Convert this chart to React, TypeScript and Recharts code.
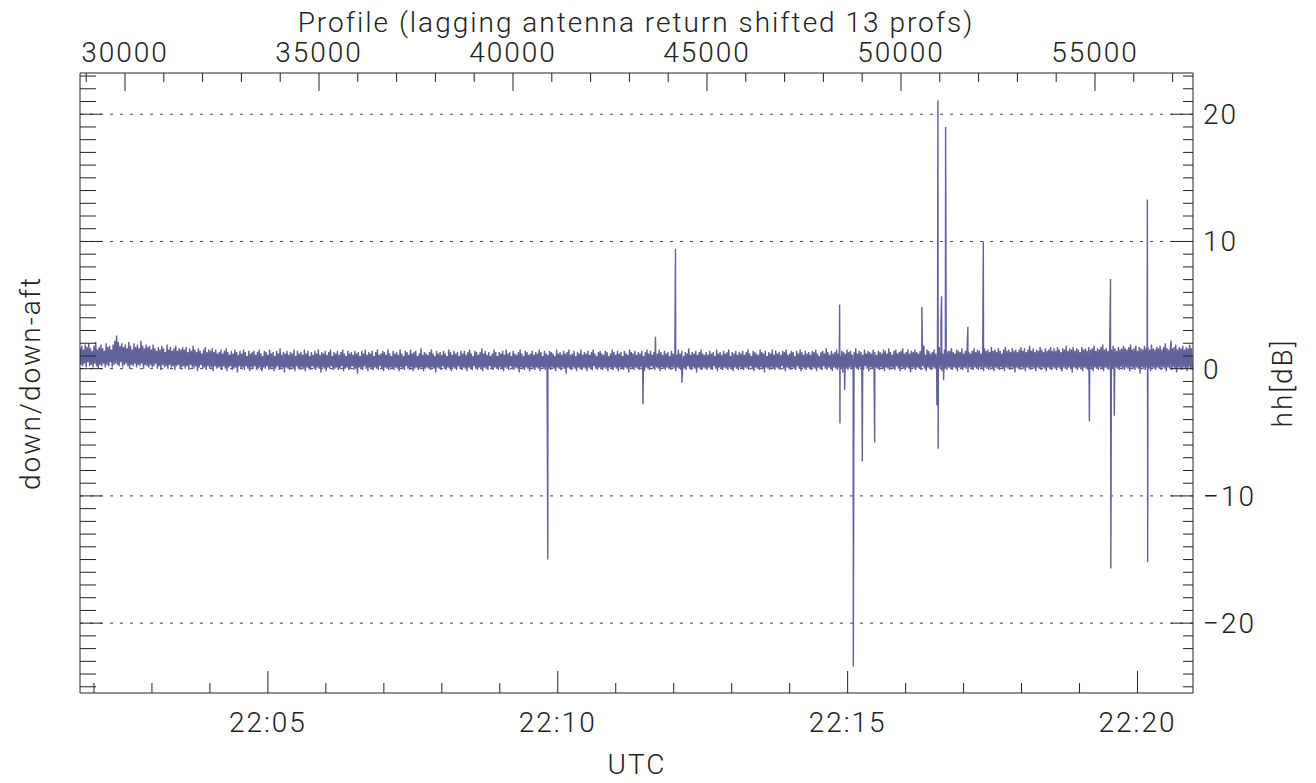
import React from "react";
import { LineChart, Line, XAxis, YAxis, ReferenceLine } from "recharts";

// minutes after 22:00 UTC, regular sampling of the noise floor
const NOISE_START = 1.76;
const NOISE_STEP = 0.015;

// hh[dB] down/down-aft ratio (one row = 0.6 min)
const noiseValues = [
  1.6,0.3,1.8,0.2,1.5,0.4,1.9,0.1,1.7,0.5, 2.0,0.2,1.6,0.3,1.4,0.1,1.8,0.4,2.1,0.2, 1.5,0.0,1.7,0.3,1.9,0.2,1.6,0.4,1.4,0.1, 2.0,0.3,1.7,0.2,1.8,0.5,1.5,0.1,1.9,0.3,
  2.2,0.4,2.6,0.3,2.1,0.2,1.8,0.5,2.0,0.1, 1.7,0.3,1.9,0.4,1.6,0.2,2.1,0.0,1.8,0.3, 1.5,0.2,2.0,0.4,1.7,0.1,1.9,0.3,1.6,0.2, 2.2,0.4,1.8,0.0,1.6,0.3,1.9,0.2,1.7,0.1,
  1.8,0.3,1.5,0.1,1.9,0.2,1.6,0.4,1.4,0.0, 1.7,0.2,1.5,-0.1,1.8,0.3,1.6,0.1,1.3,0.2, 1.9,0.0,1.5,0.3,1.7,0.1,1.4,0.2,1.6,-0.1, 1.8,0.2,1.4,0.3,1.6,0.0,1.5,0.1,1.7,0.2,
  1.5,0.0,1.7,0.2,1.3,-0.1,1.6,0.3,1.4,0.1, 1.8,0.0,1.5,0.2,1.3,-0.2,1.6,0.1,1.4,0.3, 1.2,0.0,1.5,0.1,1.7,-0.1,1.3,0.2,1.5,0.0, 1.4,0.1,1.6,-0.2,1.3,0.2,1.5,0.0,1.2,0.1,
  1.3,0.1,1.5,-0.1,1.2,0.2,1.4,0.0,1.6,-0.2, 1.3,0.1,1.1,0.2,1.4,-0.1,1.2,0.0,1.5,0.1, 1.3,-0.3,1.1,0.2,1.4,0.0,1.2,0.1,1.5,-0.1, 1.3,0.2,1.0,0.0,1.4,-0.2,1.2,0.1,1.3,0.0,
  1.4,0.2,1.1,-0.1,1.3,0.0,1.5,0.1,1.2,-0.2, 1.0,0.1,1.4,0.0,1.3,0.2,1.1,-0.1,1.5,0.0, 1.2,0.1,1.3,-0.2,1.0,0.0,1.4,0.2,1.2,-0.1, 1.6,0.0,1.1,0.1,1.3,-0.3,1.2,0.1,1.4,0.0,
  1.1,-0.1,1.3,0.1,1.2,0.0,1.5,-0.2,1.0,0.2, 1.4,0.0,1.2,-0.1,1.3,0.1,1.1,0.0,1.5,-0.2, 1.2,0.1,1.4,0.0,1.0,-0.1,1.3,0.2,1.1,0.0, 1.4,-0.1,1.2,0.1,1.5,0.0,1.1,-0.3,1.3,0.1,
  1.2,0.0,1.4,-0.2,1.1,0.1,1.3,0.0,1.5,0.2, 1.0,-0.1,1.3,0.0,1.2,0.1,1.4,-0.1,1.1,0.0, 1.3,0.2,1.5,-0.2,1.2,0.0,1.0,0.1,1.4,-0.1, 1.2,0.0,1.3,0.2,1.1,-0.1,1.4,0.0,1.2,-0.4,
  1.3,0.1,1.0,0.0,1.4,-0.1,1.2,0.2,1.5,0.0, 1.1,-0.2,1.3,0.1,1.2,0.0,1.4,-0.1,1.0,0.1, 1.3,0.0,1.5,-0.1,1.1,0.2,1.2,0.0,1.4,-0.2, 1.3,0.1,1.1,0.0,1.5,-0.1,1.2,0.1,1.0,0.0,
  1.4,-0.1,1.2,0.1,1.3,0.0,1.1,-0.2,1.5,0.1, 1.2,0.0,1.0,-0.1,1.4,0.2,1.3,0.0,1.1,-0.1, 1.5,0.1,1.2,-0.2,1.3,0.0,1.4,0.1,1.0,-0.1, 1.2,0.0,1.6,0.1,1.1,-0.2,1.3,0.0,1.2,0.1,
  1.1,0.0,1.3,-0.1,1.5,0.1,1.2,0.0,1.0,-0.3, 1.4,0.1,1.2,0.0,1.3,-0.1,1.1,0.2,1.4,0.0, 1.2,-0.1,1.0,0.1,1.5,0.0,1.3,-0.2,1.1,0.1, 1.4,0.0,1.2,-0.1,1.3,0.2,1.0,0.0,1.4,-0.1,
  1.2,0.1,1.4,0.0,1.1,-0.2,1.3,0.1,1.5,0.0, 1.2,-0.1,1.0,0.2,1.4,0.0,1.3,-0.1,1.1,0.1, 1.3,0.0,1.6,-0.2,1.2,0.1,1.4,0.0,1.1,-0.1, 1.3,0.2,1.0,0.0,1.2,-0.1,1.5,0.1,1.3,0.0,
  1.0,-0.1,1.3,0.1,1.2,0.0,1.4,-0.2,1.1,0.1, 1.5,0.0,1.2,-0.1,1.3,0.2,1.0,0.0,1.4,-0.1, 1.2,0.1,1.1,0.0,1.3,-0.3,1.5,0.1,1.2,0.0, 1.0,-0.1,1.4,0.1,1.3,0.0,1.1,-0.2,1.2,0.1,
  1.4,0.0,1.1,-0.1,1.3,0.1,1.2,0.0,1.5,-0.2, 1.3,0.1,1.0,0.0,1.4,-0.1,1.2,0.2,1.1,0.0, 1.4,-0.1,1.3,0.1,1.2,0.0,1.0,-0.2,1.5,0.1, 1.2,0.0,1.3,-0.1,1.1,0.1,1.4,0.0,1.2,-0.4,
  1.3,0.1,1.5,0.0,1.1,-0.1,1.2,0.1,1.4,0.0, 1.0,-0.2,1.3,0.1,1.2,0.0,1.5,-0.1,1.1,0.1, 1.3,0.0,1.2,-0.2,1.4,0.1,1.1,0.0,1.3,-0.1, 1.5,0.2,1.2,0.0,1.0,-0.1,1.3,0.1,1.4,0.0,
  1.2,-0.1,1.1,0.1,1.4,0.0,1.3,-0.2,1.0,0.1, 1.2,0.0,1.5,-0.1,1.3,0.1,1.1,0.0,1.4,-0.2, 1.2,0.1,1.3,0.0,1.0,-0.1,1.4,0.1,1.2,0.0, 1.1,-0.3,1.5,0.1,1.3,0.0,1.2,-0.1,1.4,0.1,
  1.1,0.0,1.3,-0.1,1.2,0.1,1.4,0.0,1.0,-0.2, 1.3,0.1,1.5,0.0,1.2,-0.1,1.4,0.2,1.1,0.0, 1.3,-0.1,1.0,0.1,1.2,0.0,1.5,-0.2,1.3,0.1, 1.1,0.0,1.4,-0.1,1.2,0.1,1.3,0.0,1.0,-0.1,
  1.4,0.1,1.2,0.0,1.3,-0.2,1.1,0.1,1.5,0.0, 1.2,-0.1,1.4,0.1,1.0,0.0,1.3,-0.1,1.2,0.2, 1.6,0.0,1.1,-0.1,1.3,0.1,1.2,0.0,1.4,-0.3, 1.1,0.1,1.3,0.0,1.5,-0.1,1.2,0.1,1.1,0.0,
  1.3,-0.1,1.1,0.1,1.4,0.0,1.2,-0.1,1.3,0.2, 1.0,0.0,1.5,-0.2,1.2,0.1,1.3,0.0,1.1,-0.1, 1.4,0.1,1.2,0.0,1.3,-0.1,1.5,0.1,1.0,0.0, 1.3,-0.2,1.2,0.1,1.4,0.0,1.1,-0.1,1.3,0.1,
  1.2,0.0,1.4,-0.1,1.1,0.1,1.3,0.0,1.5,-0.1, 1.2,0.2,1.0,0.0,1.4,-0.2,1.3,0.1,1.2,0.0, 1.1,-0.1,1.5,0.1,1.3,0.0,1.2,-0.3,1.4,0.1, 1.0,0.0,1.3,-0.1,1.2,0.1,1.5,0.0,1.1,-0.1,
  1.4,0.1,1.2,0.0,1.3,-0.1,1.1,0.2,1.4,0.0, 1.3,-0.2,1.5,0.1,1.1,0.0,1.2,-0.1,1.4,0.1, 1.3,0.0,1.0,-0.1,1.4,0.2,1.2,0.0,1.5,-0.2, 1.3,0.1,1.1,0.0,1.4,-0.1,1.2,0.1,1.3,0.0,
  1.1,-0.1,1.4,0.1,1.3,0.0,1.5,-0.2,1.2,0.1, 1.0,0.0,1.3,-0.1,1.4,0.2,1.2,0.0,1.6,-0.1, 1.3,0.1,1.1,0.0,1.4,-0.2,1.2,0.1,1.3,0.0, 1.5,-0.1,1.2,0.1,1.0,0.0,1.4,-0.3,1.3,0.1,
  1.2,0.0,1.5,-0.1,1.3,0.1,1.4,0.0,1.1,-0.2, 1.3,0.1,1.6,0.0,1.2,-0.1,1.4,0.1,1.3,0.0, 1.1,-0.1,1.5,0.2,1.2,0.0,1.4,-0.2,1.3,0.1, 1.2,0.0,1.5,-0.1,1.3,0.1,1.1,0.0,1.4,-0.1,
  1.3,0.1,1.2,0.0,1.5,-0.2,1.4,0.1,1.2,0.0, 1.6,-0.1,1.3,0.1,1.1,0.0,1.4,-0.1,1.5,0.2, 1.2,0.0,1.3,-0.2,1.4,0.1,1.6,0.0,1.2,-0.1, 1.3,0.1,1.5,0.0,1.2,-0.3,1.4,0.1,1.3,0.0,
  1.5,-0.1,1.3,0.1,1.2,0.0,1.4,-0.1,1.6,0.2, 1.3,0.0,1.1,-0.2,1.5,0.1,1.4,0.0,1.2,-0.1, 1.3,0.1,1.5,0.0,1.2,-0.1,1.4,0.1,1.7,0.0, 1.3,-0.2,1.2,0.1,1.5,0.0,1.3,-0.1,1.4,0.1,
  1.4,0.0,1.6,-0.1,1.3,0.1,1.2,0.0,1.5,-0.2, 1.4,0.1,1.3,0.0,1.6,-0.1,1.2,0.1,1.4,0.0, 1.5,-0.3,1.3,0.1,1.2,0.0,1.4,-0.1,1.6,0.1, 1.3,0.0,1.5,-0.1,1.4,0.1,1.2,0.0,1.5,-0.2,
  1.6,0.1,1.4,0.0,1.5,-0.1,1.3,0.1,1.7,0.0, 1.4,-0.2,1.5,0.1,1.3,0.0,1.6,-0.1,1.4,0.1, 1.2,0.0,1.5,-0.2,1.7,0.1,1.4,0.0,1.5,-0.1, 1.3,0.1,1.6,0.0,1.4,-0.3,1.5,0.1,1.3,0.0,
  1.5,-0.1,1.7,0.1,1.4,0.0,1.6,-0.2,1.3,0.1, 1.5,0.0,1.8,-0.1,1.4,0.1,1.6,0.0,1.3,-0.2, 1.5,0.1,1.4,0.0,1.7,-0.1,1.5,0.1,1.3,0.0, 1.6,-0.2,1.4,0.1,1.5,0.0,1.7,-0.1,1.4,0.1,
  1.6,0.0,1.4,-0.1,1.7,0.1,1.5,0.0,1.3,-0.2, 1.6,0.1,1.5,0.0,1.8,-0.1,1.4,0.1,1.6,0.0, 1.5,-0.3,1.7,0.1,1.4,0.0,1.6,-0.1,1.5,0.1, 1.3,0.0,1.7,-0.2,1.5,0.1,1.6,0.0,1.4,-0.1,
  1.7,0.1,1.5,0.0,1.6,-0.2,1.8,0.1,1.4,0.0, 1.6,-0.1,1.5,0.1,1.7,0.0,1.9,-0.2,1.5,0.1, 1.6,0.0,1.4,-0.1,1.7,0.1,1.5,0.0,1.8,-0.3, 1.6,0.1,1.4,0.0,1.7,-0.1,1.5,0.1,1.6,0.0,
  1.8,-0.1,1.6,0.1,1.5,0.0,1.7,-0.2,1.9,0.1, 1.5,0.0,1.6,-0.1,1.8,0.1,1.4,0.0,1.7,-0.4, 1.6,0.1,1.5,0.0,1.8,-0.1,1.6,0.1,1.7,0.0, 1.5,-0.2,1.9,0.1,1.6,0.0,1.5,-0.1,1.7,0.1,
  1.6,0.0,1.8,-0.1,1.5,0.1,1.7,0.0,2.0,-0.2, 1.6,0.1,1.5,0.0,1.8,-0.1,1.6,0.1,1.7,0.0, 1.9,-0.3,1.5,0.1,1.7,0.0,1.6,-0.1,1.8,0.1, 1.5,0.0,1.7,-0.2,1.6,0.1,1.9,0.0,1.6,-0.1,
];

// single-sample outliers
const spikeTimes = [
  9.828, 11.47, 11.685, 12.03, 12.14, 14.862, 14.867, 14.948, 15.098, 15.253,
  15.466, 16.28, 16.315, 16.54, 16.557, 16.562, 16.61, 16.62, 16.655, 16.69,
  17.074, 17.34, 19.17, 19.534, 19.54, 19.6, 20.17, 20.175, 20.58,
];
const spikeValues = [
  -15.0, -2.8, 2.5, 9.4, -1.1, 5.05, -4.3, -1.7, -23.4, -7.3,
  -5.8, 4.85, 1.8, -2.9, 21.1, -6.3, 3.8, 5.7, -0.9, 19.0,
  3.3, 10.0, -4.15, 7.05, -15.7, -3.7, 13.3, -15.2, 2.2,
];

const minuteTicks = [2, 3, 4, 5, 6, 7, 8, 9, 10, 11, 12, 13, 14, 15, 16, 17, 18, 19, 20];
const profileTicks = [
  29000, 30000, 31000, 32000, 33000, 34000, 35000, 36000, 37000, 38000,
  39000, 40000, 41000, 42000, 43000, 44000, 45000, 46000, 47000, 48000,
  49000, 50000, 51000, 52000, 53000, 54000, 55000, 56000, 57000,
];
const dbTicks = [
  -25, -24, -23, -22, -21, -20, -19, -18, -17, -16, -15, -14, -13, -12, -11, -10,
  -9, -8, -7, -6, -5, -4, -3, -2, -1, 0, 1, 2, 3, 4, 5, 6, 7, 8, 9, 10,
  11, 12, 13, 14, 15, 16, 17, 18, 19, 20, 21, 22, 23,
];
const gridLevels = [-20, -10, 0, 10, 20];

const TIME_DOMAIN: [number, number] = [1.759, 20.957];
const PROFILE_DOMAIN: [number, number] = [28840, 57526];
const DB_DOMAIN: [number, number] = [-25.49, 23.24];

const INK = "#222";
const SERIES = "#62629a";
const font = {
  fontFamily: "Roboto, 'DejaVu Sans', sans-serif",
  fontWeight: 300,
  fontSize: 28,
  fill: INK,
  letterSpacing: 2,
};

const rows = [
  ...noiseValues.map((v, i) => ({ t: NOISE_START + i * NOISE_STEP, v })),
  ...spikeTimes.map((t, i) => ({ t, v: spikeValues[i] })),
].sort((a, b) => a.t - b.t);

const fmtDb = (v: number) => (v < 0 ? `\u2212${Math.abs(v)}` : `${v}`);

function BottomTick({ x, y, payload }: any) {
  const major = payload.value % 5 === 0;
  return (
    <g>
      <line x1={x} y1={y} x2={x} y2={y - (major ? 22 : 10)} stroke={INK} />
      {major && (
        <text x={x} y={y + 39} textAnchor="middle" {...font}>
          {`22:${String(payload.value).padStart(2, "0")}`}
        </text>
      )}
    </g>
  );
}

function TopTick({ x, y, payload }: any) {
  const major = payload.value % 5000 === 0;
  return (
    <g>
      <line x1={x} y1={y} x2={x} y2={y + (major ? 18 : 9)} stroke={INK} />
      {major && (
        <text x={x} y={y - 11} textAnchor="middle" {...font}>
          {payload.value}
        </text>
      )}
    </g>
  );
}

function LeftTick({ x, y, payload }: any) {
  const major = payload.value % 10 === 0;
  return <line x1={x} y1={y} x2={x + (major ? 22 : 16)} y2={y} stroke={INK} />;
}

function RightTick({ x, y, payload }: any) {
  const major = payload.value % 10 === 0;
  return (
    <g>
      <line x1={x} y1={y} x2={x - (major ? 22 : 10)} y2={y} stroke={INK} />
      {major && (
        <text x={x + 10} y={y + 10} textAnchor="start" {...font}>
          {fmtDb(payload.value)}
        </text>
      )}
    </g>
  );
}

export default function App() {
  return (
    <div style={{ position: "absolute", left: 0, top: 0, width: 1316, height: 783, background: "#fff" }}>
      <LineChart width={1316} height={783} data={rows} margin={{ top: 0, right: 0, bottom: 0, left: 0 }}>
        <XAxis
          xAxisId="time"
          dataKey="t"
          type="number"
          orientation="bottom"
          height={90}
          domain={TIME_DOMAIN}
          allowDataOverflow
          ticks={minuteTicks}
          interval={0}
          tickSize={0}
          tickMargin={0}
          tickLine={false}
          tick={<BottomTick />}
          axisLine={{ stroke: INK }}
        />
        <XAxis
          xAxisId="prof"
          dataKey="t"
          type="number"
          orientation="top"
          height={73}
          domain={PROFILE_DOMAIN}
          allowDataOverflow
          ticks={profileTicks}
          interval={0}
          tickSize={0}
          tickMargin={0}
          tickLine={false}
          tick={<TopTick />}
          axisLine={{ stroke: INK }}
        />
        <YAxis
          yAxisId="left"
          type="number"
          orientation="left"
          width={80}
          domain={DB_DOMAIN}
          allowDataOverflow
          ticks={dbTicks}
          interval={0}
          tickSize={0}
          tickMargin={0}
          tickLine={false}
          tick={<LeftTick />}
          axisLine={{ stroke: INK }}
        />
        <YAxis
          yAxisId="right"
          type="number"
          orientation="right"
          width={123}
          domain={DB_DOMAIN}
          allowDataOverflow
          ticks={dbTicks}
          interval={0}
          tickSize={0}
          tickMargin={0}
          tickLine={false}
          tick={<RightTick />}
          axisLine={{ stroke: INK }}
        />
        {gridLevels.map((lv) => (
          <ReferenceLine
            key={lv}
            y={lv}
            xAxisId="time"
            yAxisId="right"
            stroke="#444"
            strokeDasharray="3 7"
          />
        ))}
        <Line
          xAxisId="time"
          yAxisId="right"
          dataKey="v"
          type="linear"
          stroke={SERIES}
          strokeWidth={1.4}
          dot={false}
          isAnimationActive={false}
        />
      </LineChart>
      <svg
        width={1316}
        height={783}
        style={{ position: "absolute", left: 0, top: 0, pointerEvents: "none" }}
      >
        <text x={636} y={32} textAnchor="middle" {...font}>
          Profile (lagging antenna return shifted 13 profs)
        </text>
        <text x={637} y={774} textAnchor="middle" {...font}>
          UTC
        </text>
        <text transform="translate(40, 383) rotate(-90)" textAnchor="middle" {...font}>
          down/down-aft
        </text>
        <text transform="translate(1292, 383) rotate(-90)" textAnchor="middle" {...font}>
          hh[dB]
        </text>
      </svg>
    </div>
  );
}
